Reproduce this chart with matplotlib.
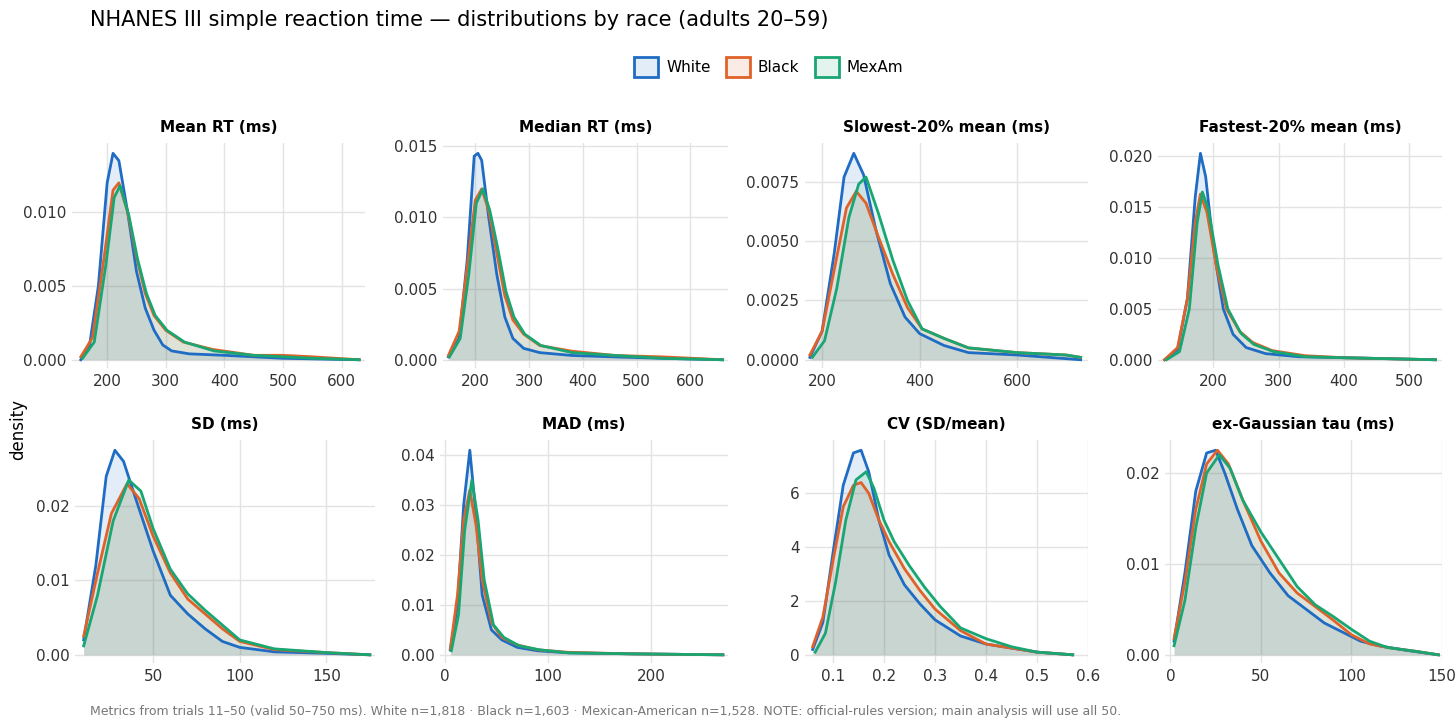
import numpy as np
import matplotlib.pyplot as plt
from matplotlib.patches import Patch
from matplotlib.ticker import FormatStrFormatter

plt.rcParams['font.family'] = ['DejaVu Sans']

groups = ["White", "Black", "MexAm"]
colors = {"White": "#1f6cc4", "Black": "#e0622a", "MexAm": "#18a673"}

titles = ["Mean RT (ms)", "Median RT (ms)", "Slowest-20% mean (ms)", "Fastest-20% mean (ms)",
          "SD (ms)", "MAD (ms)", "CV (SD/mean)", "ex-Gaussian tau (ms)"]

# density curves: (x, y) knots per panel and group
mean_rt = {
    "White": ([155, 170, 185, 200, 210, 220, 235, 250, 265, 280, 295, 310, 340, 400, 450, 500, 630],
              [0, .001, .005, .012, .014, .0135, .010, .006, .0035, .002, .001, .0006, .0004, .0003, .0002, .0001, 0]),
    "Black": ([155, 175, 195, 210, 220, 235, 250, 265, 280, 300, 330, 380, 450, 500, 550, 630],
              [.0002, .0015, .007, .0115, .012, .010, .007, .0045, .003, .002, .0012, .0007, .0003, .0003, .0002, 0]),
    "MexAm": ([158, 178, 198, 212, 222, 237, 252, 267, 282, 302, 332, 382, 450, 500, 550, 630],
              [.0001, .0012, .0065, .011, .0118, .0098, .0068, .0045, .003, .002, .0012, .0006, .0003, .0002, .0001, 0]),
}
median_rt = {
    "White": ([150, 170, 185, 198, 205, 212, 225, 240, 255, 270, 290, 320, 380, 460, 550, 660],
              [.0002, .0015, .007, .0143, .0145, .014, .010, .006, .003, .0015, .0008, .0005, .0003, .0002, .0001, 0]),
    "Black": ([150, 170, 185, 200, 212, 225, 240, 255, 270, 290, 320, 380, 460, 550, 660],
              [.0003, .002, .0065, .0112, .012, .0105, .0075, .0045, .0028, .0018, .001, .0006, .0003, .0002, 0]),
    "MexAm": ([152, 172, 188, 202, 214, 227, 242, 257, 272, 292, 322, 380, 460, 550, 660],
              [.0002, .0015, .006, .011, .012, .0105, .0078, .0048, .003, .0018, .001, .0005, .0003, .0001, 0]),
}
slow20 = {
    "White": ([175, 200, 225, 245, 265, 285, 310, 340, 370, 400, 450, 500, 600, 730],
              [.0001, .0012, .0045, .0077, .0087, .0078, .0055, .0032, .0018, .0011, .0006, .0003, .0002, 0]),
    "Black": ([175, 200, 225, 250, 270, 290, 315, 345, 375, 405, 450, 500, 600, 700, 730],
              [.0002, .0012, .0038, .0064, .0071, .0066, .0052, .0036, .0022, .0013, .0009, .0005, .0003, .0002, .0001]),
    "MexAm": ([180, 205, 230, 255, 275, 290, 315, 345, 375, 405, 450, 500, 600, 700, 730],
              [.0001, .0008, .0030, .0060, .0074, .0077, .0062, .0042, .0025, .0013, .0009, .0005, .0003, .0002, .0001]),
}
fast20 = {
    "White": ([125, 145, 160, 172, 180, 188, 200, 215, 230, 250, 280, 330, 400, 540],
              [0, .001, .006, .016, .0203, .018, .011, .005, .0025, .0012, .0006, .0003, .0002, 0]),
    "Black": ([125, 145, 160, 172, 180, 190, 205, 220, 240, 260, 290, 340, 400, 540],
              [0, .0012, .006, .0135, .0163, .0145, .009, .005, .0028, .0017, .0009, .0004, .0002, 0]),
    "MexAm": ([128, 148, 163, 175, 183, 192, 207, 222, 242, 262, 292, 340, 400, 540],
              [0, .0008, .005, .0135, .0165, .0148, .0093, .005, .0026, .0015, .0008, .0003, .0002, 0]),
}
sd = {
    "White": ([10, 17, 23, 28, 33, 40, 50, 60, 70, 80, 90, 100, 120, 150, 175],
              [.002, .012, .024, .0275, .026, .021, .014, .008, .0055, .0035, .0018, .001, .0004, .0002, 0]),
    "Black": ([10, 18, 26, 35, 42, 50, 60, 70, 80, 90, 100, 120, 150, 175],
              [.0025, .011, .019, .023, .021, .016, .011, .0075, .0055, .0035, .0018, .0007, .0003, 0]),
    "MexAm": ([10, 18, 27, 36, 43, 50, 60, 70, 80, 90, 100, 120, 150, 175],
              [.0012, .008, .018, .0235, .022, .017, .0115, .0082, .006, .004, .002, .0008, .0003, 0]),
}
mad = {
    "White": ([5, 12, 18, 24, 30, 36, 45, 55, 70, 90, 120, 180, 270],
              [.001, .01, .03, .041, .028, .012, .005, .003, .0015, .0008, .0004, .0002, 0]),
    "Black": ([5, 12, 18, 24, 30, 36, 45, 55, 70, 90, 120, 180, 270],
              [.0012, .012, .027, .033, .026, .015, .0065, .0035, .002, .001, .0005, .0002, 0]),
    "MexAm": ([6, 13, 19, 26, 32, 38, 47, 57, 72, 92, 120, 180, 270],
              [.0008, .008, .025, .035, .027, .015, .006, .0035, .0018, .001, .0004, .0002, 0]),
}
cv = {
    "White": ([0.06, 0.08, 0.10, 0.12, 0.14, 0.155, 0.17, 0.19, 0.21, 0.24, 0.27, 0.30, 0.35, 0.40, 0.45, 0.50, 0.57],
              [0.2, 1.2, 3.8, 6.3, 7.5, 7.6, 6.8, 5.0, 3.7, 2.6, 1.9, 1.3, 0.7, 0.4, 0.25, 0.1, 0]),
    "Black": ([0.06, 0.08, 0.10, 0.12, 0.14, 0.155, 0.17, 0.19, 0.21, 0.24, 0.27, 0.30, 0.35, 0.40, 0.45, 0.50, 0.57],
              [0.3, 1.4, 3.5, 5.5, 6.3, 6.4, 6.0, 5.0, 4.2, 3.2, 2.4, 1.7, 0.9, 0.4, 0.25, 0.1, 0]),
    "MexAm": ([0.065, 0.085, 0.105, 0.125, 0.145, 0.165, 0.18, 0.20, 0.22, 0.25, 0.28, 0.31, 0.35, 0.40, 0.45, 0.50, 0.57],
              [0.1, 0.8, 2.7, 5.0, 6.5, 6.8, 6.2, 5.0, 4.2, 3.3, 2.5, 1.8, 1.0, 0.6, 0.3, 0.1, 0]),
}
tau = {
    "White": ([2, 8, 14, 20, 25, 30, 37, 45, 55, 65, 75, 85, 95, 105, 115, 130, 148],
              [.0015, .009, .018, .0222, .0225, .020, .016, .012, .009, .0065, .005, .0035, .0025, .0015, .001, .0005, 0]),
    "Black": ([2, 8, 14, 20, 26, 32, 40, 50, 60, 70, 80, 90, 100, 110, 120, 135, 148],
              [.0018, .008, .016, .021, .0225, .021, .017, .0125, .009, .0068, .0053, .0038, .0022, .0012, .0008, .0004, 0]),
    "MexAm": ([2, 8, 14, 20, 27, 33, 40, 50, 60, 70, 80, 90, 100, 110, 120, 135, 148],
              [.001, .006, .014, .020, .022, .0205, .017, .0135, .0105, .0075, .0055, .0042, .0028, .0015, .0008, .0004, 0]),
}
panels = [mean_rt, median_rt, slow20, fast20, sd, mad, cv, tau]

xticks = [[200, 300, 400, 500, 600], [200, 300, 400, 500, 600], [200, 400, 600], [200, 300, 400, 500],
          [50, 100, 150], [0, 100, 200], [0.1, 0.2, 0.3, 0.4, 0.5, 0.6], [0, 50, 100, 150]]
yticks = [[0, .005, .010], [0, .005, .010, .015], [0, .0025, .0050, .0075], [0, .005, .010, .015, .020],
          [0, .01, .02], [0, .01, .02, .03, .04], [0, 2, 4, 6], [0, .01, .02]]
yfmt = ["%.3f", "%.3f", "%.4f", "%.3f", "%.2f", "%.2f", "%d", "%.2f"]
xlims = [(140, 640), (140, 670), (165, 745), (115, 550), (5, 178), (-5, 275), (0.045, 0.6), (-3, 150)]

# axes boxes in pixels: left, right, top, bottom
boxes = [(72, 365, 143, 368), (443, 728, 143, 368), (805, 1088, 143, 368), (1158, 1442, 143, 368),
         (75, 375, 440, 663), (440, 728, 440, 663), (805, 1088, 440, 663), (1165, 1442, 440, 663)]

W, H = 1456, 728
fig = plt.figure(figsize=(W / 100, H / 100), dpi=100)

for i, data in enumerate(panels):
    l, r, t, b = boxes[i]
    ax = fig.add_axes([l / W, 1 - b / H, (r - l) / W, (b - t) / H])
    for g in groups:
        x, y = data[g]
        ax.fill_between(x, y, color=colors[g], alpha=0.12, lw=0)
        ax.plot(x, y, color=colors[g], lw=2)
    ax.set_xlim(*xlims[i])
    ymax = max(max(data[g][1]) for g in groups)
    ax.set_ylim(-0.04 * ymax, ymax * 1.05)
    ax.set_xticks(xticks[i])
    ax.set_yticks(yticks[i])
    ax.yaxis.set_major_formatter(FormatStrFormatter(yfmt[i]))
    ax.grid(True, which='major', color='#e3e3e3', lw=1.0)
    ax.set_axisbelow(True)
    for s in ax.spines.values():
        s.set_visible(False)
    ax.tick_params(which='both', length=0, labelsize=11, colors='#333333', pad=4)
    ax.set_title(titles[i], fontsize=11, fontweight='bold', pad=8)

fig.text(18 / W, 1 - 430 / H, "density", rotation=90, va='center', ha='center', fontsize=12)
fig.text(90 / W, 1 - 20 / H, "NHANES III simple reaction time \u2014 distributions by race (adults 20\u201359)",
         fontsize=15, va='center')
handles = [Patch(facecolor=(*plt.matplotlib.colors.to_rgb(colors[g]), 0.12), edgecolor=colors[g], lw=2) for g in groups]
fig.legend(handles, groups, loc='center', bbox_to_anchor=(0.528, 1 - 67 / H), ncol=3, frameon=False,
           fontsize=11, handlelength=1.6, handleheight=1.6, columnspacing=1.0, handletextpad=0.5)
fig.text(90 / W, 1 - 711 / H,
         "Metrics from trials 11\u201350 (valid 50\u2013750 ms). White n=1,818 \u00b7 Black n=1,603 \u00b7 "
         "Mexican-American n=1,528. NOTE: official-rules version; main analysis will use all 50.",
         fontsize=9, color='#777777', va='center')

fig.savefig("out.png", dpi=100, facecolor='white')
